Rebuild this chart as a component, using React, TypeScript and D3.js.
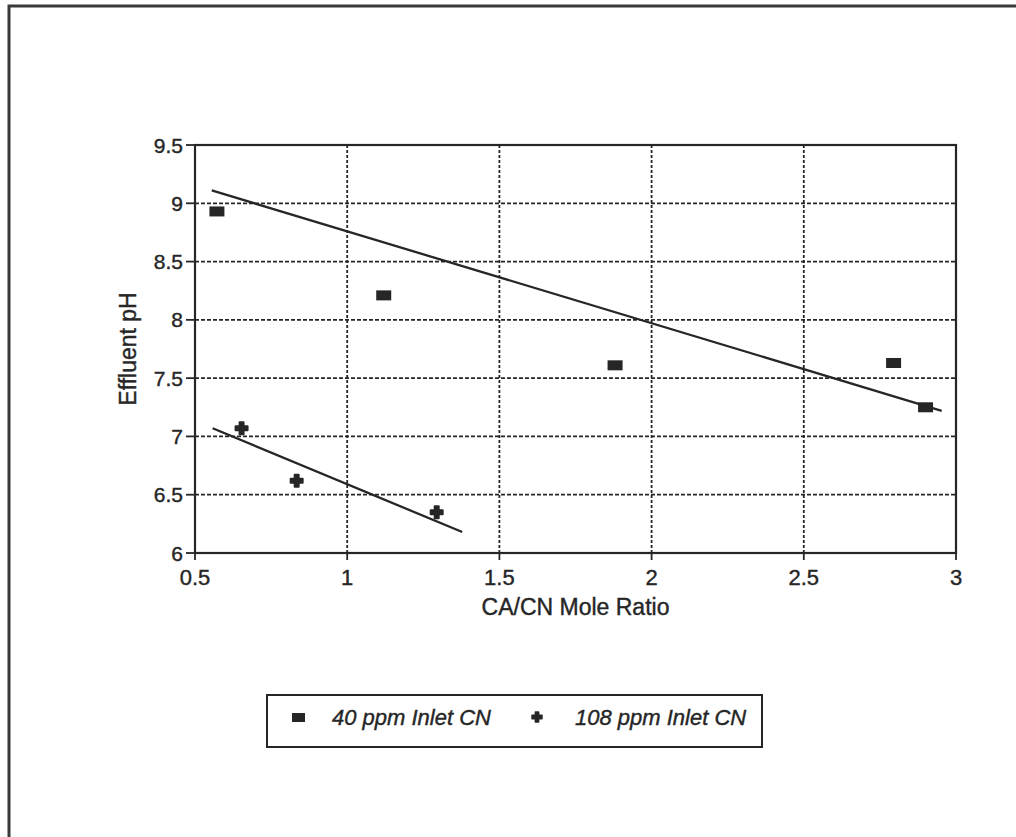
import React, { useEffect, useRef } from "react"
import * as d3 from "d3"

// 40 ppm inlet CN (squares)
const series40X = [0.572, 1.12, 1.88, 2.795, 2.9]
const series40Y = [8.93, 8.21, 7.61, 7.63, 7.25]
// 108 ppm inlet CN (crosses)
const series108X = [0.653, 0.834, 1.294]
const series108Y = [7.07, 6.62, 6.35]
// fitted lines as drawn on the original
const trend40X = [0.555, 2.953]
const trend40Y = [9.11, 7.22]
const trend108X = [0.558, 1.378]
const trend108Y = [7.07, 6.18]

const xTicks = [0.5, 1, 1.5, 2, 2.5, 3]
const yTicks = [6, 6.5, 7, 7.5, 8, 8.5, 9, 9.5]
const legendLabels = ["40 ppm Inlet CN", "108 ppm Inlet CN"]

const ink = "#262626"
const font = "Arial, 'Liberation Sans', sans-serif"

export default function App() {
    const ref = useRef<SVGSVGElement>(null)

    useEffect(() => {
        const svg = d3.select(ref.current)
        svg.selectAll("*").remove()

        // outer frame (top + left edge only visible)
        svg.append("path")
            .attr("d", "M9,837 L9,6 L1016,6")
            .attr("fill", "none")
            .attr("stroke", "#3a3a3a")
            .attr("stroke-width", 3)

        const left = 195, right = 956, top = 145, bottom = 553
        const x = d3.scaleLinear().domain([0.5, 3]).range([left, right])
        const y = d3.scaleLinear().domain([6, 9.5]).range([bottom, top])

        const g = svg.append("g")

        // grid
        g.selectAll("line.hgrid")
            .data(yTicks.filter(t => t > 6 && t < 9.5))
            .enter()
            .append("line")
            .attr("x1", left)
            .attr("x2", right)
            .attr("y1", d => y(d))
            .attr("y2", d => y(d))
            .attr("stroke", ink)
            .attr("stroke-width", 1.8)
            .attr("stroke-dasharray", "4,2")
        g.selectAll("line.vgrid")
            .data(xTicks.filter(t => t > 0.5 && t < 3))
            .enter()
            .append("line")
            .attr("y1", top)
            .attr("y2", bottom)
            .attr("x1", d => x(d))
            .attr("x2", d => x(d))
            .attr("stroke", ink)
            .attr("stroke-width", 1.8)
            .attr("stroke-dasharray", "3,2")

        // frame of plot
        g.append("rect")
            .attr("x", left)
            .attr("y", top)
            .attr("width", right - left)
            .attr("height", bottom - top)
            .attr("fill", "none")
            .attr("stroke", ink)
            .attr("stroke-width", 2.2)

        // ticks
        g.selectAll("line.ytick")
            .data(yTicks)
            .enter()
            .append("line")
            .attr("x1", left - 9)
            .attr("x2", left)
            .attr("y1", d => y(d))
            .attr("y2", d => y(d))
            .attr("stroke", ink)
            .attr("stroke-width", 1.8)
        g.selectAll("line.xtick")
            .data(xTicks)
            .enter()
            .append("line")
            .attr("x1", d => x(d))
            .attr("x2", d => x(d))
            .attr("y1", bottom)
            .attr("y2", bottom + 7)
            .attr("stroke", ink)
            .attr("stroke-width", 1.8)

        const txt = (sel: any) =>
            sel.attr("font-family", font)
                .attr("fill", ink)
                .attr("stroke", ink)
                .attr("stroke-width", 0.4)

        g.selectAll("text.ylab")
            .data(yTicks)
            .enter()
            .append("text")
            .attr("x", left - 12)
            .attr("y", d => y(d))
            .attr("dy", "0.36em")
            .attr("text-anchor", "end")
            .attr("font-size", 21)
            .call(txt)
            .text(d => String(d))
        g.selectAll("text.xlab")
            .data(xTicks)
            .enter()
            .append("text")
            .attr("x", d => x(d))
            .attr("y", 585)
            .attr("text-anchor", "middle")
            .attr("font-size", 22)
            .call(txt)
            .text(d => String(d))

        // axis titles
        g.append("text")
            .attr("x", (left + right) / 2)
            .attr("y", 615)
            .attr("text-anchor", "middle")
            .attr("font-size", 23)
            .call(txt)
            .text("CA/CN Mole Ratio")
        g.append("text")
            .attr("transform", "translate(136," + (top + bottom) / 2 + ") rotate(-90)")
            .attr("text-anchor", "middle")
            .attr("font-size", 23)
            .call(txt)
            .text("Effluent pH")

        // trend lines
        const line = d3.line<number[]>().x(d => x(d[0])).y(d => y(d[1]))
        const trends = [
            d3.zip(trend40X, trend40Y),
            d3.zip(trend108X, trend108Y),
        ]
        g.selectAll("path.trend")
            .data(trends)
            .enter()
            .append("path")
            .attr("d", d => line(d))
            .attr("fill", "none")
            .attr("stroke", ink)
            .attr("stroke-width", 2.3)

        // points
        const pts40 = d3.zip(series40X, series40Y)
        g.selectAll("rect.p40")
            .data(pts40)
            .enter()
            .append("rect")
            .attr("x", d => x(d[0]) - 7.5)
            .attr("y", d => y(d[1]) - 5)
            .attr("width", 15)
            .attr("height", 10)
            .attr("fill", ink)
        const cross = d3.symbol().type(d3.symbolCross).size(80)
        const pts108 = d3.zip(series108X, series108Y)
        g.selectAll("path.p108")
            .data(pts108)
            .enter()
            .append("path")
            .attr("d", cross)
            .attr("transform", d => "translate(" + x(d[0]) + "," + y(d[1]) + ")")
            .attr("fill", ink)
            .attr("stroke", ink)
            .attr("stroke-width", 2)
            .attr("stroke-linejoin", "round")

        // legend
        const lg = svg.append("g")
        lg.append("rect")
            .attr("x", 267)
            .attr("y", 695)
            .attr("width", 495)
            .attr("height", 52)
            .attr("fill", "none")
            .attr("stroke", ink)
            .attr("stroke-width", 2)
        lg.append("rect")
            .attr("x", 292)
            .attr("y", 713)
            .attr("width", 13)
            .attr("height", 9)
            .attr("fill", ink)
        lg.append("path")
            .attr("d", d3.symbol().type(d3.symbolCross).size(55)())
            .attr("transform", "translate(537,717)")
            .attr("fill", ink)
            .attr("stroke", ink)
            .attr("stroke-width", 1.5)
            .attr("stroke-linejoin", "round")
        lg.selectAll("text")
            .data(legendLabels)
            .enter()
            .append("text")
            .attr("x", (d, i) => (i === 0 ? 332 : 575))
            .attr("y", 725)
            .attr("font-size", 22)
            .attr("font-style", "italic")
            .call(txt)
            .text(d => d)
    }, [])

    return (
        <svg
            ref={ref}
            width={1016}
            height={837}
            style={{ position: "absolute", left: 0, top: 0, background: "#fff" }}
        />
    )
}
